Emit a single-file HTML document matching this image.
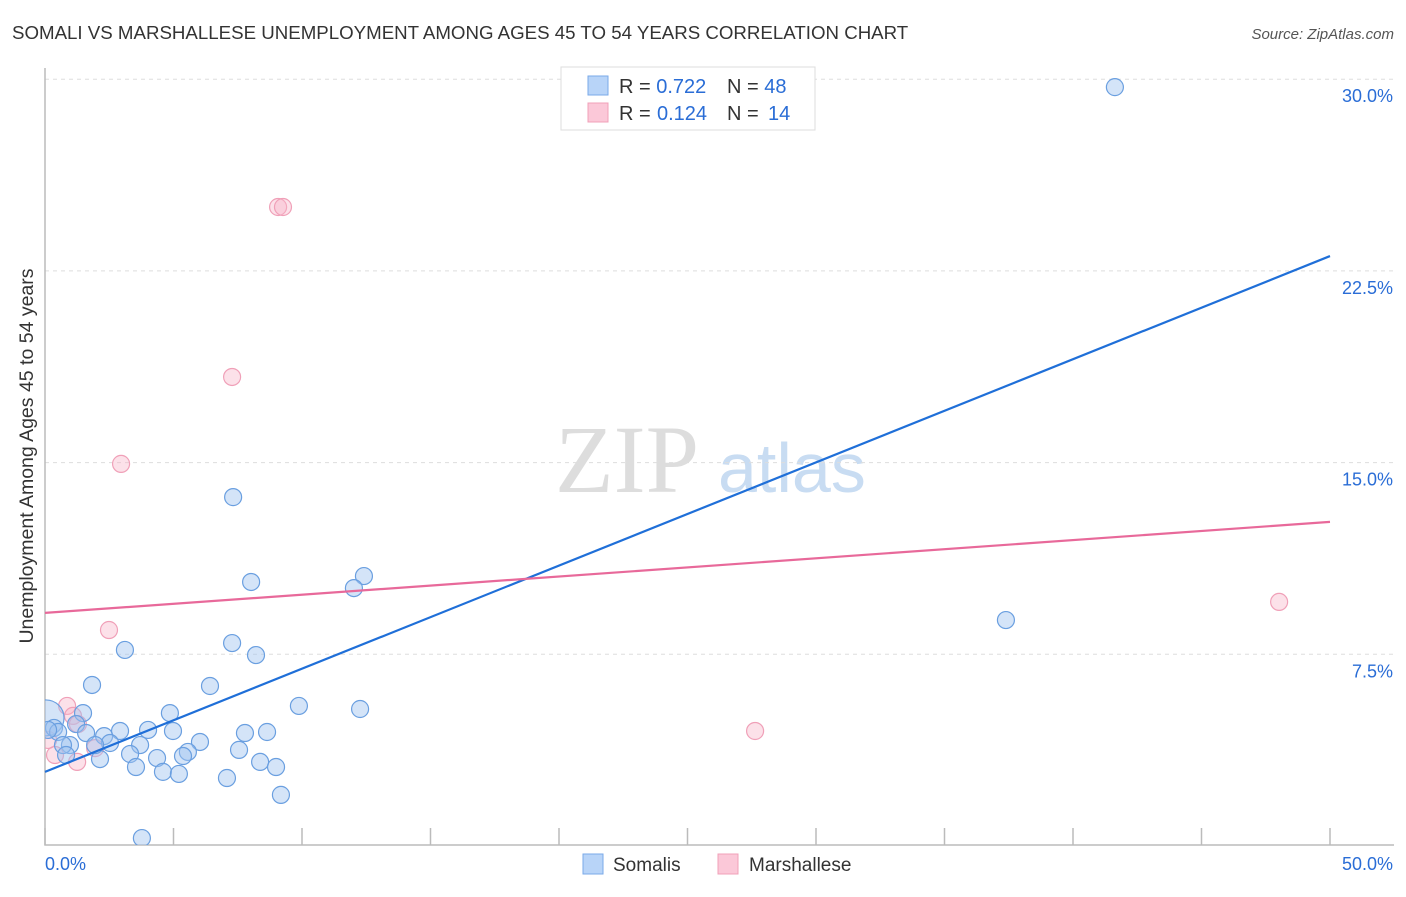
<!DOCTYPE html>
<html><head><meta charset="utf-8"><style>
body{margin:0;background:#fff;font-family:"Liberation Sans",sans-serif;}
</style></head><body>
<svg id="c" width="1406" height="892" xmlns="http://www.w3.org/2000/svg">
<defs><clipPath id="plot"><rect x="45" y="60" width="1360" height="785"/></clipPath></defs>
<text x="12" y="39" font-size="18.7" fill="#333">SOMALI VS MARSHALLESE UNEMPLOYMENT AMONG AGES 45 TO 54 YEARS CORRELATION CHART</text>
<text x="1394" y="39" font-size="15" fill="#555" font-style="italic" text-anchor="end">Source: ZipAtlas.com</text>
<text x="33" y="456" font-size="19.5" fill="#333" text-anchor="middle" transform="rotate(-90 33 456)">Unemployment Among Ages 45 to 54 years</text>
<text x="555" y="492" font-size="96" fill="#ddd" font-family="Liberation Serif,serif">ZIP</text>
<text x="718" y="492" font-size="70" fill="#c8dcf2">atlas</text>
<g id="grid"></g><g id="axes"></g><g id="pts" clip-path="url(#plot)"></g><g id="lines"></g>
<g>
<rect x="561" y="67" width="254" height="63" fill="#fff" stroke="#ddd"/>
<rect x="588" y="76" width="20" height="19" fill="#b8d4f8" stroke="#7aaae8"/>
<rect x="588" y="103" width="20" height="19" fill="#fbc8d8" stroke="#f0a0b8"/>
<text x="619" y="93" font-size="20" fill="#333">R = <tspan fill="#2a6dd6">0.722</tspan><tspan x="727">N = </tspan><tspan fill="#2a6dd6">48</tspan></text>
<text x="619" y="120" font-size="20" fill="#333">R = <tspan fill="#2a6dd6" x="657">0.124</tspan><tspan x="727">N = </tspan><tspan fill="#2a6dd6" x="768">14</tspan></text>
</g>
<g>
<rect x="583" y="854" width="20" height="20" fill="#b8d4f8" stroke="#7aaae8"/>
<text x="613" y="871" font-size="19" fill="#333">Somalis</text>
<rect x="718" y="854" width="20" height="20" fill="#fbc8d8" stroke="#f0a0b8"/>
<text x="749" y="871" font-size="19" fill="#333">Marshallese</text>
</g>
</svg>
<script>
const yTicks=[7.5,15,22.5,30];
const yTickLabels=["7.5%","15.0%","22.5%","30.0%"];
const xTickLabels=["0.0%","50.0%"];
const somaliX=[41.63,7.32,8.02,12.41,12.02,37.39,7.28,3.11,8.21,1.83,6.42,9.88,12.26,1.48,4.86,0.04,0.35,1.21,1.60,2.92,4.01,4.98,2.30,8.64,7.78,0.51,0.97,0.70,2.53,3.70,6.03,7.55,5.56,3.31,4.36,5.37,2.14,0.82,8.37,8.99,3.54,4.59,5.21,7.08,9.18,3.77,0.12,1.95];
const somaliY=[29.69,13.65,10.33,10.56,10.09,8.84,7.94,7.67,7.47,6.30,6.26,5.48,5.36,5.20,5.20,5.01,4.62,4.77,4.42,4.50,4.54,4.50,4.30,4.46,4.42,4.46,3.95,3.95,4.03,3.95,4.07,3.76,3.68,3.60,3.44,3.52,3.40,3.56,3.29,3.09,3.09,2.90,2.82,2.66,2.00,0.31,4.54,3.95];
const marshX=[9.07,9.26,7.28,2.96,2.49,48.02,27.63,0.86,1.09,1.28,0.39,1.25,1.95,0.12];
const marshY=[25.0,25.0,18.35,14.95,8.45,9.55,4.50,5.48,5.09,4.77,3.56,3.29,3.83,4.15];
const somaliFit=[2.9,23.08];
const marshFit=[9.12,12.68];
const X0=45,X1=1330,Y0=846,PX=191.7/7.5;
const sx=v=>X0+(X1-X0)*v/50, sy=v=>Y0-v*PX;
const NS="http://www.w3.org/2000/svg";
function mk(t,a,p){const e=document.createElementNS(NS,t);for(const k in a)e.setAttribute(k,a[k]);p.appendChild(e);return e;}
const grid=document.getElementById('grid'),axes=document.getElementById('axes'),pts=document.getElementById('pts'),lines=document.getElementById('lines');
yTicks.forEach((t,i)=>{
 const l=mk('line',{x1:X0,x2:1394,y1:sy(t),y2:sy(t),stroke:'#ddd','stroke-dasharray':'4,4'},grid);
 
 
 const tx=mk('text',{x:1393,y:sy(t)+23,'font-size':18,fill:'#2a6dd6','text-anchor':'end'},grid);
 tx.textContent=yTickLabels[i];
 
 
});
const ax=mk('path',{d:`M${X0} 68V845H1394`,stroke:'#bbb',fill:'none','stroke-width':1.5},axes);


for(let i=0;i<=10;i++){
 const t=mk('line',{x1:sx(i*5),x2:sx(i*5),y1:828,y2:845,stroke:'#bbb','stroke-width':1.5},axes);
 
 
}
[[0,'start',45],[50,'end',1393]].forEach((d,i)=>{
 const tx=mk('text',{x:d[2],y:870,'font-size':18,fill:'#2a6dd6','text-anchor':d[1]},axes);
 tx.textContent=xTickLabels[i];
 
 
});
marshX.forEach((x,i)=>{
 const c=mk('circle',{cx:sx(x),cy:sy(marshY[i]),r:8.5,fill:'rgba(248,180,200,0.4)',stroke:'#f0a0b8','stroke-width':1.2},pts);
 
 
});
somaliX.forEach((x,i)=>{
 const c=mk('circle',{cx:sx(x),cy:sy(somaliY[i]),r:i==15?18:8.5,fill:'rgba(160,196,240,0.45)',stroke:'#6a9fe0','stroke-width':1.2},pts);
 
 
});
const l1=mk('line',{x1:sx(0),y1:sy(somaliFit[0]),x2:sx(50),y2:sy(somaliFit[1]),stroke:'#1f6fd8','stroke-width':2.2},lines);


const l2=mk('line',{x1:sx(0),y1:sy(marshFit[0]),x2:sx(50),y2:sy(marshFit[1]),stroke:'#e8699a','stroke-width':2.2},lines);


</script>
</body></html>
